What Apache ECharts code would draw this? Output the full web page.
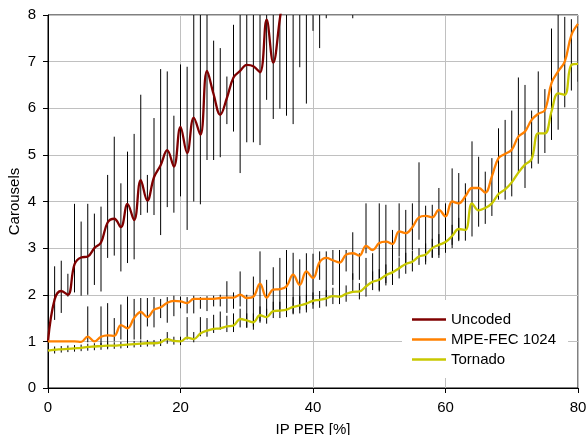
<!DOCTYPE html>
<html><head><meta charset="utf-8">
<script src="https://cdn.jsdelivr.net/npm/echarts@6/dist/echarts.min.js"></script>
<style>html,body{margin:0;padding:0;background:#fff}#c{width:586px;height:435px}</style>
</head><body><div id="c"></div>
<script>
// x positions: IP PER [%] 0..80, step 1
const xValues = Array.from({length: 81}, (_, i) => i);
const xTicks = [0, 20, 40, 60, 80];
const yTicks = [0, 1, 2, 3, 4, 5, 6, 7, 8];
const seriesNames = ['Uncoded', 'MPE-FEC 1024', 'Tornado'];

const uncoded = [1.0,1.9,2.08,2.0,2.65,2.8,2.82,3.0,3.12,3.55,3.63,3.45,3.95,3.6,4.46,4.02,4.52,4.78,5.1,4.75,
  5.6,5.04,5.8,5.43,6.8,6.3,5.86,6.22,6.66,6.8,6.93,6.9,6.77,7.9,6.98,7.92,8.9];
const uncodedLow = [null,1.46,1.61,1.96,2.05,1.98,2.0,2.21,2.07,2.79,2.84,2.5,2.68,2.76,3.71,3.76,3.71,3.28,3.88,3.76,
  4.11,3.39,4.0,3.94,4.89,4.89,4.95,5.66,5.5,4.61,5.27,5.27,5.21,6.18,5.77,5.99,5.84,5.66,6.88,6.1,
  7.66,7.29,7.93,null,null,null,7.93];
const uncodedHigh = [null,2.61,2.73,2.45,3.95,3.57,3.95,3.74,3.89,4.57,5.39,4.39,5.07,5.45,6.29,4.57,5.79,6.84,6.79,5.84,
  6.94,6.89,8,8,8,7.45,7.29,6.68,7.79,8,8,8,8,8,8,8,8,8,8,8,
  8,8,8,null,null,null,8];

const mpe = [1.0,1.0,1.0,1.0,1.0,0.99,1.1,1.0,1.1,1.13,1.12,1.35,1.28,1.5,1.63,1.52,1.68,1.73,1.83,1.87,
  1.86,1.82,1.91,1.91,1.91,1.91,1.93,1.94,1.94,2.0,1.93,1.96,2.24,1.94,2.11,2.12,2.18,2.43,2.21,2.5,
  2.36,2.7,2.79,2.74,2.69,2.86,2.89,2.84,3.05,2.96,3.11,3.14,3.09,3.36,3.32,3.45,3.66,3.69,3.66,3.82,
  3.68,4.0,3.96,4.11,4.29,4.29,4.19,4.54,4.93,5.02,5.11,5.39,5.5,5.75,5.88,5.96,6.54,6.79,7.0,7.57,7.81];
const mpeLow = [null,null,null,null,null,null,0.98,null,0.89,0.86,1.0,1.04,0.96,1.04,1.04,1.32,1.3,1.5,1.4,1.54,
  1.71,1.6,1.6,1.7,1.65,1.75,1.75,1.61,1.7,1.75,1.29,1.32,1.43,1.57,1.64,1.64,1.64,1.6,1.68,1.68,
  1.79,2.32,1.89,2.21,1.86,2.5,2.32,2.32,2.89,2.32,2.07,2.25,2.21,2.82,2.64,2.96,3.18,2.71,2.79,2.79,
  2.93,3.07,3.18,3.16,3.25,3.46,3.52,3.69,4.04,4.04,4.11,4.61,4.29,4.71,4.81,5.04,5.32,5.54,6.02,6.38,6.57];
const mpeHigh = [null,null,null,null,null,null,1.75,null,1.75,1.82,1.5,1.79,1.96,1.91,1.93,1.93,1.95,1.91,1.95,1.98,
  1.96,1.95,1.98,1.95,1.97,1.98,2.0,2.29,2.05,2.5,2.0,2.39,2.93,2.32,2.59,2.79,2.96,2.9,2.76,2.89,
  2.88,2.93,2.93,2.96,2.96,2.96,3.34,2.89,3.96,2.89,3.96,3.93,3.39,3.96,3.82,3.96,4.84,3.91,3.93,4.29,
  3.96,4.71,4.61,4.39,5.29,4.96,4.64,4.93,5.57,5.75,5.95,6.66,6.5,5.95,6.79,6.41,7.71,8.0,7.96,7.91,7.81];

const tornado = [0.8,0.82,0.83,0.84,0.85,0.86,0.88,0.89,0.9,0.91,0.91,0.92,0.93,0.94,0.95,0.96,0.96,0.98,1.05,1.01,
  1.0,1.08,1.05,1.17,1.23,1.27,1.28,1.32,1.34,1.48,1.45,1.41,1.56,1.52,1.65,1.66,1.68,1.74,1.77,1.81,
  1.87,1.89,1.92,1.97,1.96,2.02,2.06,2.07,2.18,2.28,2.32,2.42,2.48,2.57,2.66,2.71,2.82,2.86,3.0,3.07,
  3.13,3.26,3.41,3.39,3.96,3.81,3.86,3.96,4.16,4.26,4.41,4.62,4.79,4.91,5.46,5.46,5.93,6.32,6.29,6.93,6.95];
const tornadoLow = [null,0.74,0.76,0.77,0.78,0.79,0.8,0.81,0.82,0.83,0.84,0.85,0.86,0.87,0.88,0.89,0.89,0.9,0.95,0.93,
  0.92,1.04,0.98,1.11,1.1,1.18,1.25,1.2,1.2,1.3,1.3,1.25,1.4,1.38,1.5,1.5,1.52,1.58,1.6,1.62,
  1.7,1.72,1.75,1.8,1.8,1.85,2.04,1.9,1.96,2.1,2.1,2.2,2.25,2.35,2.45,2.5,2.64,2.65,2.8,2.85,
  2.9,3.0,3.15];
const tornadoHigh = [null,0.89,0.9,0.91,0.92,0.93,0.95,0.96,0.97,0.98,0.98,0.99,1.0,1.01,1.02,1.03,1.03,1.05,1.2,1.1,
  1.1,1.52,1.2,1.52,1.5,1.57,1.64,1.55,1.6,1.7,1.6,1.6,1.75,1.7,1.85,1.85,1.88,1.95,1.97,2.0,
  2.05,2.08,2.1,2.15,2.15,2.2,2.46,2.25,2.79,2.5,2.55,2.65,2.7,2.8,2.9,2.95,3.0,3.1,3.2,3.3,
  3.35,3.5,3.65];

const colors = ['#7F0000', '#FF8000', '#C8C800'];
const FONT = 'Liberation Sans, Arial, sans-serif';

function pts(vals) {
  const out = [];
  vals.forEach((v, i) => { if (v != null) out.push([xValues[i], v]); });
  return out;
}
function bars(lo, hi) {
  const out = [];
  lo.forEach((l, i) => { if (l != null && hi[i] != null) out.push([xValues[i], l, hi[i]]); });
  return out;
}
function errSeries(data) {
  return {
    type: 'custom', data: data, z: 1, silent: true, clip: true,
    encode: {x: 0, y: [1, 2]},
    renderItem: function (params, api) {
      const x = api.value(0);
      const a = api.coord([x, api.value(1)]);
      const b = api.coord([x, api.value(2)]);
      return {type: 'line', shape: {x1: a[0], y1: a[1], x2: b[0], y2: b[1]},
        style: {stroke: '#000', lineWidth: 1}};
    }
  };
}
function lineSeries(name, vals, color) {
  return {name: name, type: 'line', data: pts(vals), smooth: 0.4, symbol: 'none', clip: true, z: 3,
    lineStyle: {color: color, width: 2.3}, itemStyle: {color: color}};
}

const chart = echarts.init(document.getElementById('c'), null, {renderer: 'canvas'});
chart.setOption({
  animation: false,
  backgroundColor: '#fff',
  textStyle: {fontFamily: FONT},
  grid: {left: 48, right: 8, top: 15, bottom: 47, show: true, borderColor: '#000', borderWidth: 1,
    containLabel: false, outerBoundsMode: 'none'},
  legend: {
    data: seriesNames, orient: 'vertical', left: 402, top: 300,
    backgroundColor: '#fff', padding: [12, 12, 11, 10], itemGap: 5,
    icon: 'rect', itemWidth: 34, itemHeight: 2.5,
    textStyle: {fontFamily: FONT, fontSize: 15, color: '#000'}
  },
  xAxis: {
    type: 'value', min: xTicks[0], max: xTicks[xTicks.length - 1], interval: 20,
    name: 'IP PER [%]', nameLocation: 'middle', nameGap: 34, nameMoveOverlap: false,
    nameTextStyle: {fontFamily: FONT, fontSize: 15, color: '#000'},
    axisLine: {show: true, onZero: false, lineStyle: {color: '#000', width: 1}},
    axisTick: {show: true, length: 5, lineStyle: {color: '#000'}},
    axisLabel: {fontFamily: FONT, fontSize: 15, color: '#000', margin: 12},
    splitLine: {show: true, lineStyle: {color: '#c0c0c0', width: 1}}
  },
  yAxis: {
    type: 'value', min: yTicks[0], max: yTicks[yTicks.length - 1], interval: 1,
    name: 'Carousels', nameLocation: 'middle', nameGap: 26, nameRotate: 90, nameMoveOverlap: false,
    nameTextStyle: {fontFamily: FONT, fontSize: 15, color: '#000'},
    axisLine: {show: true, lineStyle: {color: '#000', width: 1}},
    axisTick: {show: true, length: 5, lineStyle: {color: '#000'}},
    axisLabel: {fontFamily: FONT, fontSize: 15, color: '#000', margin: 12},
    splitLine: {show: true, lineStyle: {color: '#c0c0c0', width: 1}}
  },
  series: [
    errSeries(bars(uncodedLow, uncodedHigh)),
    errSeries(bars(mpeLow, mpeHigh)),
    errSeries(bars(tornadoLow, tornadoHigh)),
    lineSeries(seriesNames[0], uncoded, colors[0]),
    lineSeries(seriesNames[1], mpe, colors[1]),
    lineSeries(seriesNames[2], tornado, colors[2])
  ]
});
</script></body></html>
